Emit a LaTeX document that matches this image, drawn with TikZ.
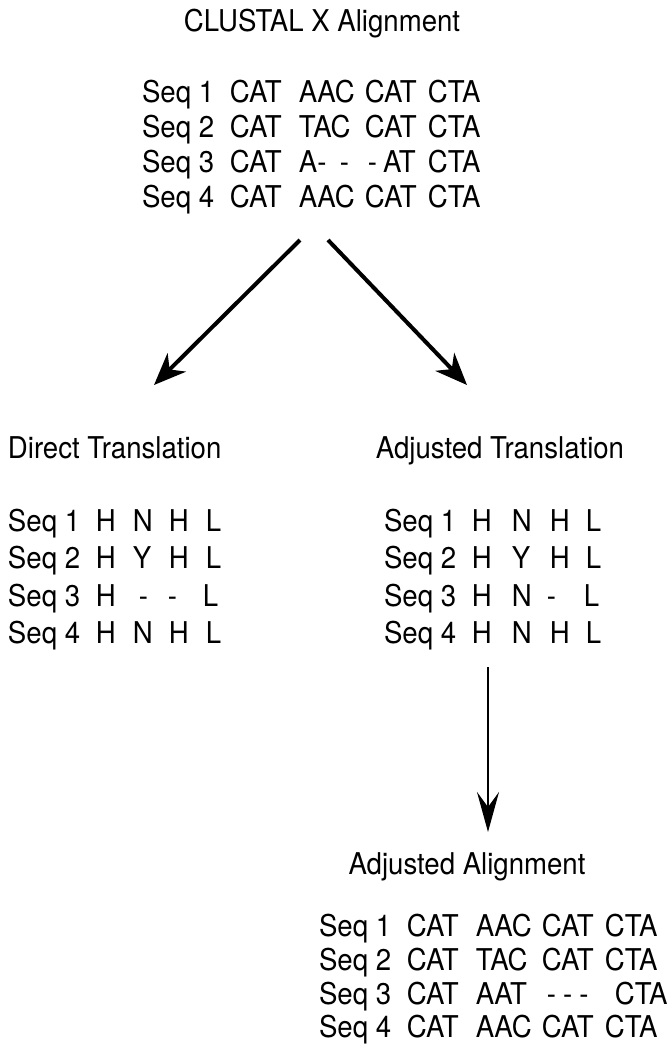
\documentclass[tikz,border=0pt]{standalone}
\usepackage{fontspec}
\setmainfont{TeX Gyre Heros}[FakeStretch=0.92]
\usetikzlibrary{arrows.meta}
% fixed-width column cell for the sequence rows
\newcommand{\colbox}[2]{\makebox[#1pt][l]{#2}}
\begin{document}
\begin{tikzpicture}[x=1pt,y=-1pt,
  txt/.style={font=\fontsize{30}{36}\selectfont, inner sep=0pt, outer sep=0pt, anchor=base west},
  ttl/.style={txt, anchor=base},
  bigarrow/.style={line width=4pt, -{Stealth[length=32pt,width=26pt,inset=10pt]}},
  downarrow/.style={line width=2.6pt, -{Stealth[length=40pt,width=22pt,inset=15pt]}}]
\useasboundingbox (0,0) rectangle (672,1045);

% ---- CLUSTAL X alignment
\node[ttl] (clustal) at (322,31) {CLUSTAL X Alignment};
\node[txt] (ca1) at (142,102) {\colbox{88}{Seq 1}\colbox{69}{CAT}\colbox{66}{AAC}\colbox{63}{CAT}CTA};
\node[txt] (ca2) at (142,137) {\colbox{88}{Seq 2}\colbox{69}{CAT}\colbox{66}{TAC}\colbox{63}{CAT}CTA};
\node[txt] (ca3) at (142,172) {\colbox{88}{Seq 3}\colbox{69}{CAT}\colbox{41}{A-}\colbox{28}{-}\colbox{60}{-\hspace{6pt}AT}CTA};
\node[txt] (ca4) at (142,207) {\colbox{88}{Seq 4}\colbox{69}{CAT}\colbox{66}{AAC}\colbox{63}{CAT}CTA};

% ---- direct translation
\node[txt] (direct) at (8,458) {Direct Translation};
\node[txt] (dt1) at (8,531) {\colbox{88}{Seq 1}\colbox{37}{H}\colbox{36}{N}\colbox{37}{H}L};
\node[txt] (dt2) at (8,568) {\colbox{88}{Seq 2}\colbox{37}{H}\colbox{36}{Y}\colbox{37}{H}L};
\node[txt] (dt3) at (8,606) {\colbox{88}{Seq 3}\colbox{37}{H}\colbox{35}{\hspace{6pt}-}\colbox{35}{-}L};
\node[txt] (dt4) at (8,643) {\colbox{88}{Seq 4}\colbox{37}{H}\colbox{36}{N}\colbox{37}{H}L};

% ---- adjusted translation
\node[ttl] (adjtr) at (500,458) {Adjusted Translation};
\node[txt] (at1) at (384,531) {\colbox{88}{Seq 1}\colbox{40}{H}\colbox{38}{N}\colbox{36}{H}L};
\node[txt] (at2) at (384,568) {\colbox{88}{Seq 2}\colbox{40}{H}\colbox{38}{Y}\colbox{36}{H}L};
\node[txt] (at3) at (384,606) {\colbox{88}{Seq 3}\colbox{40}{H}\colbox{38}{N}\colbox{34}{\hspace{-3pt}-}L};
\node[txt] (at4) at (384,643) {\colbox{88}{Seq 4}\colbox{40}{H}\colbox{38}{N}\colbox{36}{H}L};

% ---- adjusted alignment
\node[ttl] (adjal) at (467,874) {Adjusted Alignment};
\node[txt] (aa1) at (319,936) {\colbox{88}{Seq 1}\colbox{69}{CAT}\colbox{66}{AAC}\colbox{63}{CAT}CTA};
\node[txt] (aa2) at (319,970) {\colbox{88}{Seq 2}\colbox{69}{CAT}\colbox{66}{TAC}\colbox{63}{CAT}CTA};
\node[txt] (aa3) at (319,1004) {\colbox{88}{Seq 3}\colbox{69}{CAT}\colbox{66}{AAT}\colbox{73}{\hspace{5pt}-\hspace{7pt}-\hspace{7pt}-}CTA};
\node[txt] (aa4) at (319,1037) {\colbox{88}{Seq 4}\colbox{69}{CAT}\colbox{66}{AAC}\colbox{63}{CAT}CTA};

% ---- connectors
\coordinate (splitL) at (300,240);
\coordinate (splitR) at (328,240);
\coordinate (toDirect) at (154,385);
\coordinate (toAdjusted) at (467,385);
\coordinate (fromAdj) at (488,667);
\coordinate (toAlign) at (488,832);
\draw[bigarrow] (splitL) -- (toDirect);
\draw[bigarrow] (splitR) -- (toAdjusted);
\draw[downarrow] (fromAdj) -- (toAlign);
\end{tikzpicture}
\end{document}
